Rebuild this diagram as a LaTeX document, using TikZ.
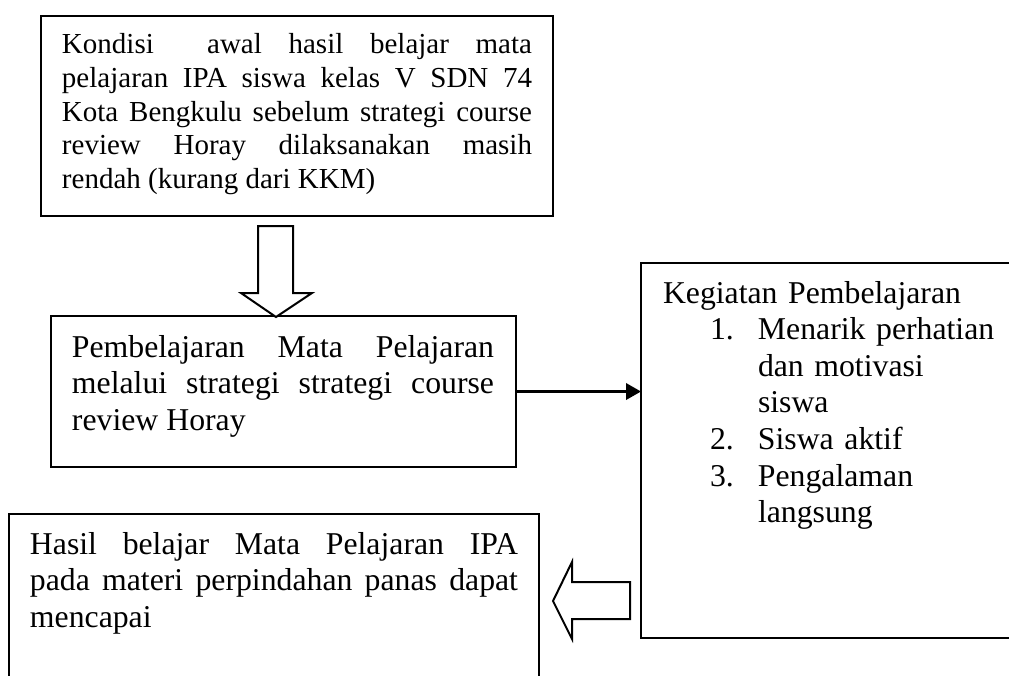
\documentclass[tikz,border=0pt]{standalone}
\usepackage{fontspec}
\setmainfont{Liberation Serif}
\usetikzlibrary{arrows.meta}
\newcommand{\kgnum}[1]{\hspace*{18.8pt}\makebox[19.2pt][l]{#1}}
\newcommand{\kgind}{\hspace*{38pt}}
\tolerance=9999
\hyphenpenalty=10000
\exhyphenpenalty=10000
\tikzset{
  box/.style={draw, line width=0.85pt, inner sep=0pt, outer sep=0pt, anchor=north west},
  txt/.style={inner sep=0pt, outer sep=0pt, anchor=base west, align=justify},
  small/.style={font=\fontsize{11.6pt}{13.5pt}\selectfont},
  large/.style={font=\fontsize{12.7pt}{14.65pt}\selectfont},
  conn/.style={line width=0.85pt, -{Triangle[length=6pt,width=6.6pt]}},
  blockarrow/.style={draw, line width=0.8pt, fill=white, line join=miter}
}
\begin{document}
\begin{tikzpicture}[x=0.4pt,y=-0.4pt]
\clip (0,0) rectangle (1009,675);
\fill[white] (0,0) rectangle (1009,675);
% boxes
\node[box, minimum width=204.8pt, minimum height=80pt] (b1) at (41,16) {};
\node[box, minimum width=186pt, minimum height=60.4pt] (b2) at (51,316) {};
\node[box, minimum width=212pt, minimum height=100pt] (b3) at (9,514) {};
\node[box, minimum width=200pt, minimum height=150pt] (b4) at (641,263) {};
% texts
\node[txt, small, text width=188pt] (t1) at (62,53.5)
 {Kondisi\ \ awal hasil belajar mata\linebreak pelajaran IPA siswa kelas V SDN 74\linebreak Kota Bengkulu sebelum strategi course\linebreak review Horay dilaksanakan masih\linebreak rendah (kurang dari KKM)};
\node[txt, large, text width=168.8pt] (t2) at (72,357)
 {Pembelajaran Mata Pelajaran\linebreak melalui strategi strategi course\linebreak review Horay};
\node[txt, large, text width=195.2pt] (t3) at (30,554)
 {Hasil belajar Mata Pelajaran IPA\linebreak pada materi perpindahan panas dapat\linebreak mencapai};
\node[txt, large, text width=140pt, align=left] (t4) at (663,303)
 {Kegiatan Pembelajaran\\
  \kgnum{1.}Menarik perhatian\\
  \kgind dan motivasi\\
  \kgind siswa\\
  \kgnum{2.}Siswa aktif\\
  \kgnum{3.}Pengalaman\\
  \kgind langsung};
% connectors
\draw[conn] (b2.east) -- (b2.east -| b4.west);
\draw[blockarrow] (258,226) -- (293,226) -- (293,293) -- (312,293) -- (276,317) -- (241,293) -- (258,293) -- cycle;
\draw[blockarrow] (630,582) -- (572,582) -- (572,562) -- (553,601) -- (572,639) -- (572,619) -- (630,619) -- cycle;
\end{tikzpicture}
\end{document}
